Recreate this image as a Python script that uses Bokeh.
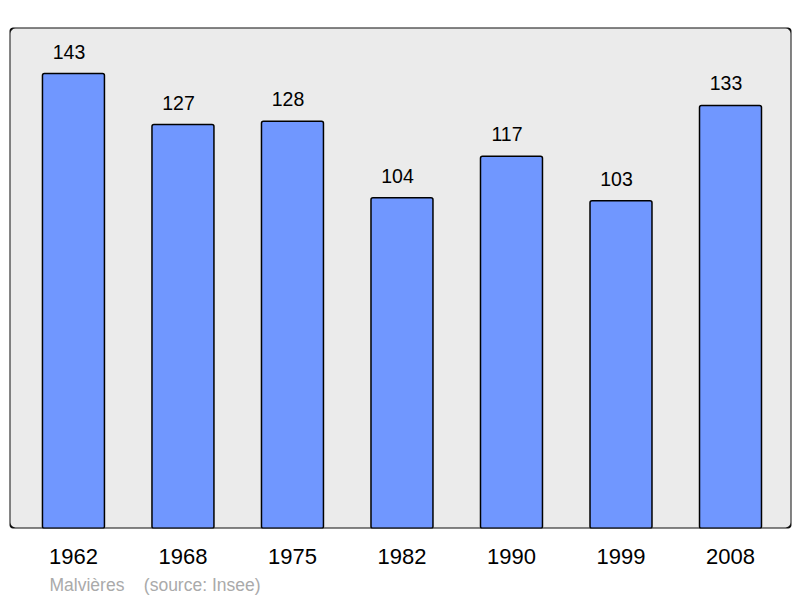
from bokeh.plotting import figure
from bokeh.models import ColumnDataSource, FixedTicker, BoxAnnotation, Title, Range1d
from bokeh.core.properties import value
from bokeh.embed import file_html
from bokeh.resources import INLINE

years = ["1962", "1968", "1975", "1982", "1990", "1999", "2008"]
population = [143, 127, 128, 104, 117, 103, 133]
commune = "Malvières"
source_text = "(source: Insee)"

idx = list(range(len(years)))
src = ColumnDataSource(dict(x=idx, top=population, label=[str(v) for v in population]))

x0, x1 = -0.584, 6.557
y0, y1 = 0, 157.5

p = figure(frame_width=782, frame_height=501, output_backend="svg", toolbar_location=None,
           x_range=Range1d(x0, x1), y_range=Range1d(y0, y1),
           min_border_left=9, min_border_right=9, min_border_top=27, min_border_bottom=0)
p.outline_line_color = None
p.background_fill_color = None
p.border_fill_color = "white"
p.grid.visible = False
p.yaxis.visible = False

bg = BoxAnnotation(left=x0, right=x1, bottom=y0, top=y1, fill_color="#ebebeb", fill_alpha=1,
                   line_color=None, level="underlay", border_radius=6)
p.add_layout(bg)

p.vbar(x="x", top="top", width=0.566, bottom=0, source=src, fill_color="#7097ff",
       line_color="black", line_width=1.5, border_radius=2)

p.text(x="x", y="top", text="label", source=src, text_align="center", text_baseline="alphabetic",
       x_offset=-4.5, y_offset=-22, text_font_size="19.5px", text_color="black",
       text_font=value("Liberation Sans"))

frame = BoxAnnotation(left=x0, right=x1, bottom=y0, top=y1, fill_color=None, fill_alpha=0,
                      line_color="#111111", line_alpha=1, line_width=2, border_radius=6,
                      level="overlay")
p.add_layout(frame)

ax = p.xaxis[0]
ax.ticker = FixedTicker(ticks=idx)
ax.major_label_overrides = {i: y for i, y in zip(idx, years)}
ax.axis_line_color = None
ax.major_tick_line_color = None
ax.minor_tick_line_color = None
ax.major_label_text_font_size = "22px"
ax.major_label_text_font = "Liberation Sans"
ax.major_label_text_color = "black"
ax.major_label_standoff = 14

t = Title(text=commune + "\u00a0" * 4 + source_text, align="left", offset=40,
          text_color="#aaaaaa", text_font_size="17.5px", text_font="Liberation Sans",
          text_font_style="normal", standoff=13)
p.add_layout(t, "below")

open("out.html", "w").write(file_html(p, INLINE))
